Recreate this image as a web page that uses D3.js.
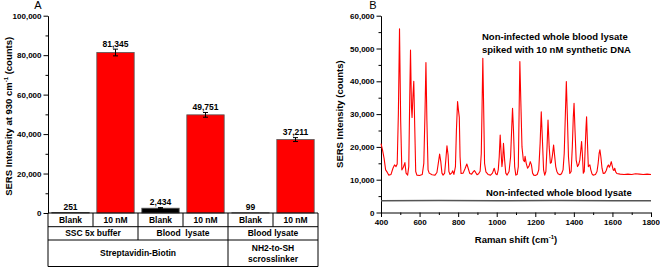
<!DOCTYPE html>
<html>
<head>
<meta charset="utf-8">
<script src="https://cdn.jsdelivr.net/npm/d3@7"></script>
<style>
  body { margin: 0; background: #fff; }
  svg { display: block; font-family: Arial, "Liberation Sans", sans-serif; }
  .axis text { font-size: 8px; font-weight: bold; fill: #000; }
  .axis path, .axis line { stroke: #000; stroke-width: 1; }
  .bold { font-weight: bold; }
</style>
</head>
<body>
<div id="chart"></div>
<script>
// ---- data: panel A (bar chart) ----
const conditions = ["Blank", "10 nM", "Blank", "10 nM", "Blank", "10 nM"];
const barValues = [251, 81345, 2434, 49751, 99, 37211];
const barErrors = [0, 1700, 300, 1200, 0, 1000];
const barLabels = ["251", "81,345", "2,434", "49,751", "99", "37,211"];
const mediumGroups = [["SSC 5x buffer", 2], ["Blood  lysate", 2], ["Blood lysate", 2]];
const chemistryGroups = [[["Streptavidin-Biotin"], 4], [["NH2-to-SH", "scrosslinker"], 2]];
const ticksA = [0, 20000, 40000, 60000, 80000, 100000];

// ---- data: panel B (spectra) ----
const spikedSpectrum = [
  [400, 21000], [408, 19000], [416, 16500], [424, 13000], [432, 12300], [440, 11400],
  [452, 11600], [462, 13500], [470, 14500], [478, 14000], [484, 14800], [490, 30000],
  [496, 56000], [502, 28000], [508, 13000], [516, 13800], [524, 15200], [530, 12000],
  [538, 11400], [544, 14000], [549, 35000], [553, 49500], [558, 32000], [561, 29000],
  [566, 36000], [570, 40000], [575, 26000], [580, 12500], [586, 11400], [600, 11300],
  [614, 11600], [622, 15000], [628, 30000], [633, 45700], [638, 28000], [644, 13000],
  [650, 12000], [665, 11500], [680, 11400], [690, 12200], [697, 15000], [704, 17800],
  [710, 15500], [716, 12000], [722, 11400], [730, 12000], [736, 16000], [742, 20300],
  [748, 17500], [752, 12500], [758, 11600], [766, 12000], [772, 12700], [778, 11600],
  [786, 14000], [791, 25000], [797, 33800], [802, 31000], [806, 29000], [810, 17000],
  [815, 11900], [826, 12000], [836, 13400], [845, 14800], [852, 13500], [860, 11900],
  [870, 11700], [878, 12400], [884, 12800], [890, 12300], [898, 11500], [906, 11800],
  [914, 12600], [920, 18000], [924, 32000], [928, 47000], [932, 33000], [937, 15000],
  [944, 12400], [955, 11600], [968, 11400], [978, 12000], [987, 13500], [995, 11800],
  [1002, 11500], [1008, 13000], [1013, 17000], [1018, 23600], [1023, 18000], [1027, 14000],
  [1031, 16000], [1035, 21100], [1041, 16000], [1047, 12000], [1054, 11400], [1064, 12500],
  [1072, 17000], [1078, 26000], [1082, 31800], [1087, 25000], [1093, 14000], [1099, 11400],
  [1106, 11600], [1112, 14000], [1116, 30000], [1120, 46000], [1125, 34000], [1131, 20000],
  [1138, 16000], [1144, 15500], [1147, 17100], [1153, 15000], [1160, 13500], [1168, 14200],
  [1174, 15500], [1180, 14500], [1186, 12000], [1192, 11400], [1200, 11300], [1210, 11600],
  [1218, 13000], [1225, 21000], [1231, 30700], [1237, 22000], [1243, 13000], [1249, 11400],
  [1255, 12500], [1261, 20000], [1266, 28200], [1272, 20000], [1278, 15000], [1283, 15200],
  [1289, 17500], [1295, 20600], [1300, 17500], [1306, 14000], [1312, 12500], [1318, 11800],
  [1328, 11500], [1336, 11800], [1344, 13000], [1350, 18000], [1356, 30000], [1361, 39900],
  [1366, 30000], [1372, 17000], [1379, 11900], [1386, 12500], [1392, 20000], [1397, 29000],
  [1401, 33300], [1406, 25000], [1412, 16000], [1419, 14000], [1425, 14600], [1431, 16000],
  [1436, 19000], [1440, 21600], [1444, 18000], [1449, 12000], [1454, 12500], [1459, 20000],
  [1463, 26000], [1466, 29200], [1470, 22000], [1475, 14000], [1479, 14300], [1483, 14500],
  [1488, 13000], [1494, 11800], [1500, 11400], [1512, 11600], [1520, 12500], [1526, 15000],
  [1531, 18000], [1535, 19100], [1540, 17000], [1546, 13500], [1552, 11900], [1560, 12000],
  [1568, 12800], [1574, 14000], [1579, 14500], [1584, 13800], [1589, 14500], [1594, 15500],
  [1599, 14200], [1604, 13000], [1608, 12800], [1612, 13500], [1617, 12400], [1623, 11900],
  [1640, 11700], [1660, 11600], [1680, 11700], [1700, 11600], [1720, 11800], [1740, 11700],
  [1760, 11600], [1780, 11700], [1800, 11600]
];
const blankSpectrum = [[400, 3600], [700, 3650], [1000, 3600], [1300, 3650], [1600, 3600], [1800, 3600]];
const ticksB = [0, 10000, 20000, 30000, 40000, 50000, 60000];
const ramanTicks = [400, 600, 800, 1000, 1200, 1400, 1600, 1800];

const W = 660, H = 267;
const svg = d3.select("#chart").append("svg")
  .attr("width", W)
  .attr("height", H);

const fmt = d3.format(",");

// ================= Panel A =================
const x = d3.scaleBand()
  .domain(d3.range(conditions.length))
  .range([48, 318])
  .paddingInner(0.17)
  .paddingOuter(0.085);
const y = d3.scaleLinear().domain([0, 100000]).range([213, 15.7]);
const step = x.step();
const cellLeft = i => 48 + i * step;

// minor ticks
svg.append("g")
  .attr("class", "axis")
  .attr("transform", "translate(48,0)")
  .call(d3.axisLeft(y).tickValues(d3.range(10000, 100000, 20000)).tickSize(2.5).tickFormat(""))
  .select(".domain").remove();

svg.append("g")
  .attr("class", "axis")
  .attr("transform", "translate(48,0)")
  .call(d3.axisLeft(y).tickValues(ticksA).tickFormat(fmt).tickSize(4.5).tickSizeOuter(0).tickPadding(2));

svg.append("text")
  .attr("class", "bold")
  .attr("transform", `translate(12,${(y(0) + y(100000)) / 2 + 2}) rotate(-90)`)
  .attr("text-anchor", "middle")
  .attr("font-size", 9.5)
  .html('SERS Intensity at 930 cm<tspan dy="-4" font-size="6">-1</tspan><tspan dy="4"> (counts)</tspan>');

svg.append("text")
  .attr("x", 38).attr("y", 9)
  .attr("text-anchor", "middle")
  .attr("font-size", 11)
  .text("A");

svg.selectAll("rect.bar")
  .data(barValues)
  .join("rect")
  .attr("class", "bar")
  .attr("x", (d, i) => x(i))
  .attr("width", x.bandwidth())
  .attr("y", d => y(d))
  .attr("height", d => y(0) - y(d))
  .attr("fill", (d, i) => i % 2 === 0 ? "#000" : "#ff0000")
  .attr("stroke", "#555")
  .attr("stroke-width", 0.8);

// error bars
const eb = svg.append("g").attr("stroke", "#000").attr("stroke-width", 1);
barValues.forEach((v, i) => {
  const e = barErrors[i];
  if (!e) return;
  const cx = x(i) + x.bandwidth() / 2;
  eb.append("line").attr("x1", cx).attr("x2", cx).attr("y1", y(v - e)).attr("y2", y(v + e));
  eb.append("line").attr("x1", cx - 2.5).attr("x2", cx + 2.5).attr("y1", y(v - e)).attr("y2", y(v - e));
  eb.append("line").attr("x1", cx - 2.5).attr("x2", cx + 2.5).attr("y1", y(v + e)).attr("y2", y(v + e));
});

svg.selectAll("text.val")
  .data(barLabels)
  .join("text")
  .attr("class", "val bold")
  .attr("x", (d, i) => x(i) + x.bandwidth() / 2)
  .attr("y", (d, i) => y(barValues[i] + barErrors[i]) - 2.5)
  .attr("text-anchor", "middle")
  .attr("font-size", 8.5)
  .text(d => d);

// table under the bars
const rowY = [213, 226.7, 240, 266.5];
const table = svg.append("g");
const line = (x1, y1, x2, y2) => table.append("line")
  .attr("x1", x1).attr("y1", y1).attr("x2", x2).attr("y2", y2)
  .attr("stroke", "#000").attr("stroke-width", 1);
rowY.forEach(ry => line(48, ry, 318, ry));
line(48, rowY[0], 48, rowY[3]);
line(318, rowY[0], 318, rowY[3]);

conditions.forEach((c, i) => {
  if (i > 0) line(cellLeft(i), rowY[0], cellLeft(i), rowY[1]);
  table.append("text").attr("class", "bold")
    .attr("x", cellLeft(i) + step / 2).attr("y", (rowY[0] + rowY[1]) / 2 + 3)
    .attr("text-anchor", "middle").attr("font-size", 8.5).text(c);
});

let col = 0;
mediumGroups.forEach(([label, span], gi) => {
  if (gi > 0) line(cellLeft(col), rowY[1], cellLeft(col), rowY[2]);
  table.append("text").attr("class", "bold")
    .attr("x", cellLeft(col) + span * step / 2).attr("y", (rowY[1] + rowY[2]) / 2 + 3)
    .attr("text-anchor", "middle").attr("font-size", 8.5).attr("xml:space", "preserve").text(label);
  col += span;
});

col = 0;
chemistryGroups.forEach(([lines, span], gi) => {
  if (gi > 0) line(cellLeft(col), rowY[2], cellLeft(col), rowY[3]);
  const cy = (rowY[2] + rowY[3]) / 2;
  lines.forEach((t, li) => {
    table.append("text").attr("class", "bold")
      .attr("x", cellLeft(col) + span * step / 2)
      .attr("y", cy + 3 + (li - (lines.length - 1) / 2) * 11)
      .attr("text-anchor", "middle").attr("font-size", 8.5).text(t);
  });
  col += span;
});

// ================= Panel B =================
const xb = d3.scaleLinear().domain([400, 1800]).range([381, 651]);
const yb = d3.scaleLinear().domain([0, 60000]).range([212.5, 15.7]);

svg.append("g")
  .attr("class", "axis")
  .attr("transform", "translate(381,0)")
  .call(d3.axisLeft(yb).tickValues(d3.range(5000, 60000, 10000)).tickSize(2.5).tickFormat(""))
  .select(".domain").remove();
svg.append("g")
  .attr("class", "axis")
  .attr("transform", "translate(381,0)")
  .call(d3.axisLeft(yb).tickValues(ticksB).tickFormat(fmt).tickSize(4.5).tickSizeOuter(0).tickPadding(2));

svg.append("g")
  .attr("class", "axis")
  .attr("transform", "translate(0,212.5)")
  .call(d3.axisBottom(xb).tickValues(d3.range(500, 1800, 200)).tickSize(2.5).tickFormat(""))
  .select(".domain").remove();
const xAxisB = svg.append("g")
  .attr("class", "axis")
  .attr("transform", "translate(0,212.5)")
  .call(d3.axisBottom(xb).tickValues(ramanTicks).tickFormat(d3.format("d")).tickSize(4.5).tickSizeOuter(0).tickPadding(2));
// keep the last label inside the window
xAxisB.selectAll(".tick text").filter(d => d === 1800).attr("text-anchor", "end").attr("dx", 8.5);

svg.append("text")
  .attr("class", "bold")
  .attr("transform", `translate(343,${(yb(0) + yb(60000)) / 2}) rotate(-90)`)
  .attr("text-anchor", "middle")
  .attr("font-size", 9.5)
  .text("SERS Intensity (counts)");

svg.append("text")
  .attr("class", "bold")
  .attr("x", (xb(400) + xb(1800)) / 2)
  .attr("y", 243)
  .attr("text-anchor", "middle")
  .attr("font-size", 9.5)
  .html('Raman shift (cm<tspan dy="-4" font-size="6">-1</tspan><tspan dy="4">)</tspan>');

svg.append("text")
  .attr("x", 373).attr("y", 9)
  .attr("text-anchor", "middle")
  .attr("font-size", 11)
  .text("B");

const lineGen = d3.line().x(d => xb(d[0])).y(d => yb(d[1]));

svg.append("path")
  .datum(blankSpectrum)
  .attr("d", lineGen)
  .attr("fill", "none")
  .attr("stroke", "#555")
  .attr("stroke-width", 1.5);

svg.append("path")
  .datum(spikedSpectrum)
  .attr("d", lineGen)
  .attr("fill", "none")
  .attr("stroke", "#ff0000")
  .attr("stroke-width", 1.1)
  .attr("stroke-linejoin", "round");

const note = svg.append("g").attr("class", "bold").attr("font-size", 9.5);
note.append("text").attr("x", 482).attr("y", 39.5).text("Non-infected whole blood lysate");
note.append("text").attr("x", 482).attr("y", 52.5).text("spiked with 10 nM synthetic DNA");
note.append("text").attr("x", 486).attr("y", 196).text("Non-infected whole blood lysate");
</script>
</body>
</html>
